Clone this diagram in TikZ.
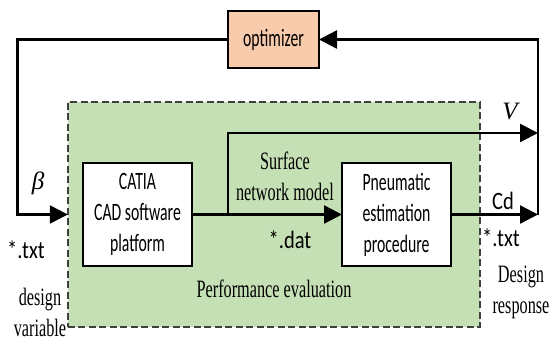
\documentclass[tikz,border=0pt]{standalone}
\usepackage{fontspec}
\setmainfont{Liberation Serif}[FakeStretch=0.65]
\newfontfamily\boxfont{Carlito}[FakeStretch=0.63]
\newfontfamily\tagfont{Carlito}[FakeStretch=0.82]
\newfontfamily\varfont{Liberation Serif}
\usetikzlibrary{arrows.meta, positioning, calc}
\definecolor{ink}{HTML}{000000}
\definecolor{rule}{HTML}{3F3F3F}
\definecolor{leaf}{HTML}{C5E0B4}
\definecolor{warmsoft}{HTML}{F8CBAD}
\tikzset{
  font=\boxfont\fontsize{25}{31}\selectfont,
  >={Triangle[length=18pt, width=18pt]},
  %
  box/.style={
    draw=ink, line width=1.6pt, fill=white, align=center, text=ink,
    minimum width=109pt, minimum height=103pt, inner sep=2pt, outer sep=0pt,
  },
  boxw/.style={box, fill=warmsoft, minimum width=91pt, minimum height=57pt},
  zone/.style={draw=rule, line width=1.6pt, fill=leaf, dash pattern=on 7pt off 3.5pt,
               minimum width=412pt, minimum height=225pt, outer sep=0pt},
  %
  flow/.style={draw=ink, line width=2.4pt, ->},
  %
  lbl/.style={font=\tagfont\fontsize{25}{32}\selectfont, text=ink, inner sep=1pt},
  note/.style={font=\rmfamily\fontsize{25}{31}\selectfont, text=ink, align=center, inner sep=1pt},
  sym/.style={font=\varfont\itshape\fontsize{25}{29}\selectfont, text=ink, inner sep=1pt},
}

\begin{document}
\begin{tikzpicture}[x=1pt, y=-1pt]
  \useasboundingbox (0,0) rectangle (549,342);

  % region and blocks
  \node[zone] (eval) at (273.8,214.4) {};
  \node[box] (cad) at (137.5,214.5) {CATIA\\CAD software\\platform};
  \node[box] (pne) at (396.5,214.5) {Pneumatic\\estimation\\procedure};
  \node[boxw] (opt) at (273.5,39.5) {optimizer};

  % corners of the loop
  \coordinate (inL) at (17.5,214.5);
  \coordinate (br) at (228,214.5);
  \coordinate (vR) at (538,133);
  \coordinate (outR) at (538,214.5);

  % connectors
  \draw[flow] (opt) -| (inL) -- (inL -| eval.west);
  \draw[flow] (cad) -- (pne);
  \draw[flow] (br) |- (vR);
  \draw[flow] (pne) -- (outR);
  \draw[flow] (outR) |- (opt);

  % labels
  \node[sym] (beta) at (38,183) {β};
  \node[lbl] (txtin) at (26,250) {*.txt};
  \node[note] (dvar) at (40,312) {design\\variable};
  \node[note] (surf) at (285,176) {Surface\\network model};
  \node[lbl] (dat) at (290,240) {*.dat};
  \node[note] (perf) at (274,289) {Performance evaluation};
  \node[sym] (vel) at (510,112) {V};
  \node[lbl] (cd) at (503,201) {Cd};
  \node[lbl] (txtout) at (501,238) {*.txt};
  \node[note] (resp) at (521,292) {Design\\response};
\end{tikzpicture}
\end{document}
